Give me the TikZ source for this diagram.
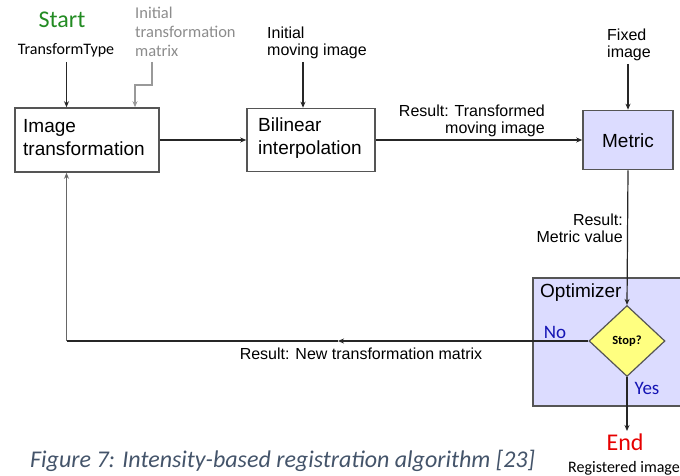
\documentclass[tikz,border=0pt]{standalone}
\usepackage{fontspec}
\setmainfont{Liberation Sans}
\newfontfamily\calfnt{Carlito}
\usetikzlibrary{arrows.meta,shapes.geometric}
\definecolor{lav}{RGB}{220,220,255}
\definecolor{yel}{RGB}{255,255,128}
\definecolor{edge}{RGB}{85,85,85}
\definecolor{capc}{RGB}{68,84,106}
\definecolor{startg}{RGB}{34,139,34}
\definecolor{endr}{RGB}{230,0,0}
\definecolor{blu}{RGB}{20,20,180}
\tikzset{
  box/.style={draw=edge, line width=1.6pt, fill=white, inner sep=0pt},
  boxtxt/.style={font=\fontsize{19}{23}\selectfont, align=left, inner sep=0pt},
  lab/.style={font=\fontsize{16}{17}\selectfont, inner sep=0pt},
  conn/.style={draw=black!85, line width=1.2pt},
  arr/.style={conn, -{Stealth[length=6pt,width=5pt]}},
}
\begin{document}
\begin{tikzpicture}[x=1pt,y=-1pt]
\useasboundingbox (0,0) rectangle (680,476);
% optimizer box
\node[box, fill=lav, minimum width=148pt, minimum height=128pt, anchor=north west] (opt) at (532,277) {};
\node[boxtxt, anchor=west] (optl) at (540,293) {Optimizer};
% boxes
\node[box, minimum width=144pt, minimum height=64pt] (imgT) at (87,140) {};
\node[boxtxt, anchor=west] (imgTt) at (23,138) {Image\\transformation};
\node[box, minimum width=128pt, minimum height=63pt] (bil) at (311,140) {};
\node[boxtxt, anchor=west] (bilt) at (258,138) {Bilinear\\interpolation};
\node[box, fill=lav, minimum width=90pt, minimum height=59pt] (met) at (628,140) {};
\node[boxtxt] (mett) at (628,141) {Metric};
% diamond
\node[draw=edge, line width=1.2pt, fill=yel, shape=diamond, inner sep=0pt, minimum width=76pt, minimum height=71pt] (stop) at (627,341) {};
\node[font=\calfnt\bfseries\fontsize{12.5}{14}\selectfont, inner sep=0pt] (stopt) at (627,341) {Stop?};
% top labels
\node[font=\calfnt\fontsize{24}{26}\selectfont, text=startg, inner sep=0pt] (start) at (62,20) {Start};
\node[font=\calfnt\fontsize{16}{18}\selectfont, inner sep=0pt] (tt) at (66,50) {TransformType};
\node[font=\calfnt\fontsize{16.5}{19}\selectfont, text=black!45, align=left, anchor=west, inner sep=0pt] (itm) at (135,32) {Initial\\transformation\\matrix};
\node[lab, align=left, anchor=west] (imi) at (267,43) {Initial\\moving image};
\node[lab, align=left] (fix) at (629,45) {Fixed\\image};
% result labels
\node[lab, align=right, anchor=east] (r1) at (545,121) {Result: Transformed\\moving image};
\node[lab, align=right, anchor=east] (r2) at (623,228) {Result:\\Metric value};
\node[lab] (r3) at (361,354) {Result: New transformation matrix};
\node[font=\calfnt\fontsize{19}{21}\selectfont, text=blu, inner sep=0pt] (no) at (555,332) {No};
\node[font=\calfnt\fontsize{19}{21}\selectfont, text=blu, inner sep=0pt] (yes) at (647,388) {Yes};
\node[font=\calfnt\fontsize{24}{26}\selectfont, text=endr, inner sep=0pt] (endn) at (625,442) {End};
\node[font=\calfnt\fontsize{16}{18}\selectfont, inner sep=0pt, anchor=east] (reg) at (680,468) {Registered image};
\node[font=\calfnt\itshape\fontsize{24}{26}\selectfont, text=capc, inner sep=0pt, anchor=base west] (cap) at (30,467) {Figure 7: Intensity-based registration algorithm [23]};
% connectors
\coordinate (ttb) at (66.5,62);
\draw[arr] (ttb) -- (imgT.north -| ttb);
\coordinate (m1) at (152,62);
\coordinate (m2) at (152,85);
\coordinate (m3) at (135,85);
\draw[arr, draw=black!40] (m1) -- (m2) -- (m3) -- (imgT.north -| m3);
\coordinate (imb) at (303,62);
\draw[arr] (imb) -- (bil.north -| imb);
\coordinate (fxb) at (628,64);
\draw[arr] (fxb) -- (met.north);
\draw[arr] (imgT.east) -- (bil.west);
\draw[arr] (bil.east) -- (met.west);
\draw[arr] (met.south) -- (stop.north);
\coordinate (mid) at (338,341);
\coordinate (corner) at (66.5,341);
\draw[arr] (stop.west) -- (mid);
\draw[conn] (mid) -- (corner);
\draw[arr, draw=black!60] (corner) -- (imgT.south -| corner);
\coordinate (endtop) at (627,431);
\draw[arr] (stop.south) -- (endtop);
\end{tikzpicture}
\end{document}
